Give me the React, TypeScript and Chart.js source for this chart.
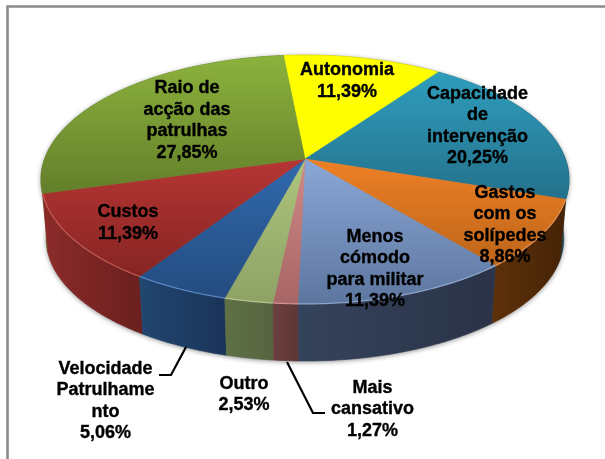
import React, { useEffect, useRef } from "react";
import { Chart, registerables } from "chart.js";

Chart.register(...registerables);

const categories = [
  "Autonomia",
  "Capacidade de intervenção",
  "Gastos com os solípedes",
  "Menos cómodo para militar",
  "Mais cansativo",
  "Outro",
  "Velocidade Patrulhamento",
  "Custos",
  "Raio de acção das patrulhas",
];
const shares = [11.39, 20.25, 8.86, 11.39, 1.27, 2.53, 5.06, 11.39, 27.85];
const shareLabels = ["11,39%", "20,25%", "8,86%", "11,39%", "1,27%", "2,53%", "5,06%", "11,39%", "27,85%"];
const labelLines = [
  ["Autonomia"],
  ["Capacidade", "de", "intervenção"],
  ["Gastos", "com os", "solípedes"],
  ["Menos", "cómodo", "para militar"],
  ["Mais", "cansativo"],
  ["Outro"],
  ["Velocidade", "Patrulhame", "nto"],
  ["Custos"],
  ["Raio de", "acção das", "patrulhas"],
];
const labelCentres = [
  [347, 81], [477.5, 126], [505, 225], [375, 269], [372.5, 409.5], [244, 394.5], [105.5, 401], [128, 223], [187, 120.5],
];
const topLight = ["#ffff00", "#2f9dbd", "#ee8026", "#8ba7d6", "#d08888", "#adc57c", "#3069ad", "#b63533", "#8cb23d"];
const topDark = ["#ffff00", "#24718b", "#bd6519", "#5c769f", "#a86565", "#8ea266", "#244c80", "#862523", "#637f2a"];
const rimLight = ["#ffff66", "#5fb8d0", "#f2a060", "#a0b4d8", "#e0a8a8", "#c4d49c", "#6c9bd8", "#d06a66", "#a4c660"];
const sideLight = ["#a5a500", "#1d5a70", "#5e3109", "#35435c", "#6a3f3f", "#5f7045", "#21466f", "#8a2b29", "#5d7a27"];
const sideDark = ["#8a8a00", "#174a5c", "#472406", "#2a3347", "#5f3636", "#566540", "#1a3358", "#6a1f1e", "#4e6a20"];
const leaders = [
  [[186, 347], [171, 375], [159, 375]],
  [[287, 362], [313, 413], [325, 413]],
];

const K = 0.165;
const CX = 305, CY = 159, A = 260.4, B = 121;
const CY2 = 219, SHRINK = 0.98;

function rim(a: number, bottom: boolean): [number, number] {
  const u = Math.cos(a), v = Math.sin(a), w = 1 - K * v;
  const s = bottom ? SHRINK : 1;
  return [CX + (s * A * u) / w, (bottom ? CY2 : CY) + (s * B * v) / w];
}

function rimPath(ctx: CanvasRenderingContext2D, a0: number, a1: number, bottom: boolean, move: boolean) {
  const n = Math.max(2, Math.ceil(Math.abs(a1 - a0) / 0.01));
  for (let i = 0; i <= n; i++) {
    const [x, y] = rim(a0 + ((a1 - a0) * i) / n, bottom);
    if (i === 0 && move) ctx.moveTo(x, y);
    else ctx.lineTo(x, y);
  }
}

function sliceSpan(a0: number, a1: number) {
  let lo = CY, hi = CY;
  for (let i = 0; i <= 60; i++) {
    const y = rim(a0 + ((a1 - a0) * i) / 60, false)[1];
    lo = Math.min(lo, y);
    hi = Math.max(hi, y);
  }
  return [lo, hi];
}

const pie3d = {
  id: "pie3d",
  beforeDraw(chart: any) {
    const { ctx, width, height } = chart;
    ctx.save();
    ctx.fillStyle = "#ffffff";
    ctx.fillRect(0, 0, width, height);
    ctx.strokeStyle = "#8a8a8a";
    ctx.lineWidth = 2.6;
    ctx.beginPath();
    ctx.moveTo(7.5, height + 2);
    ctx.lineTo(7.5, 6.5);
    ctx.lineTo(width + 2, 6.5);
    ctx.stroke();
    ctx.restore();
  },
  beforeDatasetDraw(chart: any) {
    const { ctx } = chart;
    const arcs = chart.getDatasetMeta(0).data as any[];
    ctx.save();
    // soft shadow under the whole body
    ctx.save();
    ctx.shadowColor = "rgba(0,0,0,0.45)";
    ctx.shadowBlur = 5;
    ctx.shadowOffsetY = 1;
    ctx.fillStyle = "#999";
    ctx.beginPath();
    rimPath(ctx, 0, Math.PI * 2, true, true);
    ctx.closePath();
    ctx.fill();
    ctx.beginPath();
    rimPath(ctx, 0, Math.PI * 2, false, true);
    ctx.closePath();
    ctx.fill();
    ctx.restore();
    // walls, back to front
    const order = arcs
      .map((arc, i) => ({ arc, i }))
      .sort((p, q) => {
        const mid = (x: any) => Math.sin((x.arc.startAngle + x.arc.endAngle) / 2);
        return mid(p) - mid(q);
      });
    order.forEach(({ arc, i }) => {
      const a0 = arc.startAngle, a1 = arc.endAngle;
      const [x0] = rim(a0, true), [x1] = rim(a1, true);
      const g = ctx.createLinearGradient(Math.min(x0, x1), 0, Math.max(x0, x1), 0);
      g.addColorStop(0, sideLight[i]);
      g.addColorStop(1, sideDark[i]);
      ctx.fillStyle = g;
      ctx.beginPath();
      rimPath(ctx, a0, a1, false, true);
      rimPath(ctx, a1, a0, true, false);
      ctx.closePath();
      ctx.fill();
      ctx.strokeStyle = g;
      ctx.lineWidth = 0.6;
      ctx.stroke();
    });
    // top faces
    arcs.forEach((arc, i) => {
      const [lo, hi] = sliceSpan(arc.startAngle, arc.endAngle);
      const g = ctx.createLinearGradient(0, lo, 0, hi);
      g.addColorStop(0, topLight[i]);
      g.addColorStop(1, topDark[i]);
      ctx.fillStyle = g;
      ctx.beginPath();
      ctx.moveTo(CX, CY);
      rimPath(ctx, arc.startAngle, arc.endAngle, false, false);
      ctx.closePath();
      ctx.fill();
      ctx.strokeStyle = g;
      ctx.lineWidth = 0.6;
      ctx.stroke();
    });
    // bevel light along the front rim
    arcs.forEach((arc, i) => {
      ctx.strokeStyle = rimLight[i];
      ctx.globalAlpha = 0.75;
      ctx.lineWidth = 1.2;
      ctx.beginPath();
      rimPath(ctx, arc.startAngle, arc.endAngle, false, true);
      if (Math.sin((arc.startAngle + arc.endAngle) / 2) > 0.1) ctx.stroke();
      ctx.globalAlpha = 1;
    });
    ctx.restore();
    return false;
  },
  afterDraw(chart: any) {
    const { ctx } = chart;
    ctx.save();
    ctx.strokeStyle = "#000";
    ctx.lineWidth = 2.2;
    leaders.forEach((pts) => {
      ctx.beginPath();
      pts.forEach(([x, y], j) => (j ? ctx.lineTo(x, y) : ctx.moveTo(x, y)));
      ctx.stroke();
    });
    ctx.fillStyle = "#000";
    ctx.strokeStyle = "#000";
    ctx.lineWidth = 0.35;
    ctx.font = 'bold 18px "Liberation Sans", Arial, sans-serif';
    ctx.textAlign = "center";
    ctx.textBaseline = "middle";
    labelLines.forEach((lines, i) => {
      const all = [...lines, shareLabels[i]];
      const [cx, cy] = labelCentres[i];
      const lh = 21.5;
      all.forEach((t, j) => {
        const y = cy + (j - (all.length - 1) / 2) * lh;
        ctx.fillText(t, cx, y);
        ctx.strokeText(t, cx, y);
      });
    });
    ctx.restore();
  },
};

export default function App() {
  const ref = useRef<HTMLCanvasElement>(null);
  useEffect(() => {
    document.body.style.margin = "0";
    const chart = new Chart(ref.current!, {
      type: "pie",
      data: { labels: categories, datasets: [{ data: shares, backgroundColor: topLight, borderWidth: 0 }] },
      options: {
        responsive: false,
        animation: false,
        rotation: -5.5,
        plugins: { legend: { display: false }, tooltip: { enabled: false } },
      },
      plugins: [pie3d],
    } as any);
    return () => chart.destroy();
  }, []);
  return <canvas ref={ref} width={605} height={459} style={{ display: "block", filter: "blur(0.45px)" }} />;
}
